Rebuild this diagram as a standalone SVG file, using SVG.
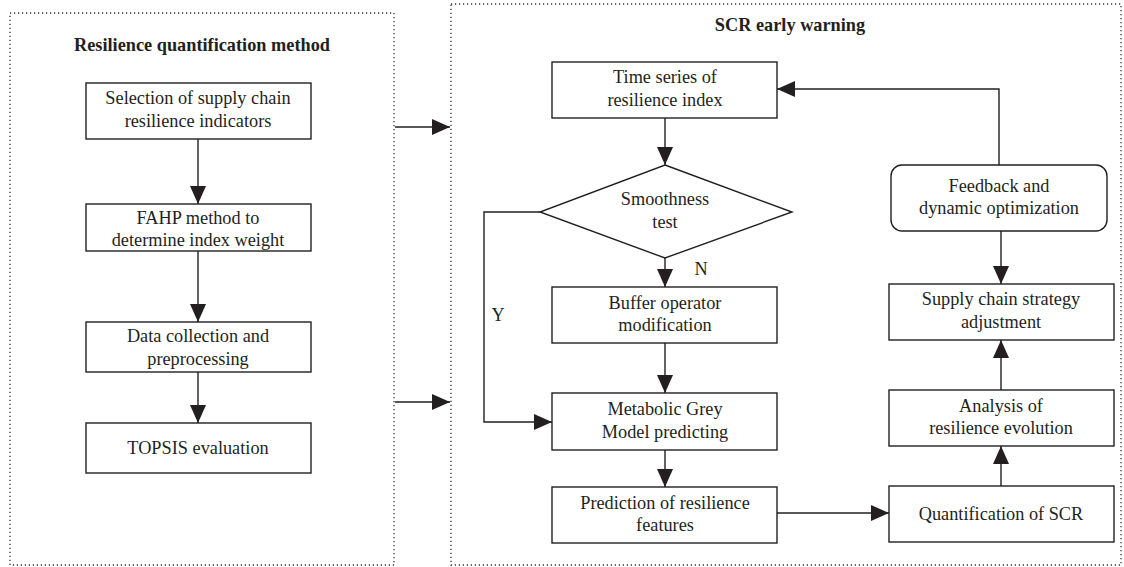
<svg xmlns="http://www.w3.org/2000/svg" width="1124" height="567" viewBox="0 0 1124 567">
<style>
.frame{fill:none;stroke:#333;stroke-width:1.3;stroke-dasharray:1.2 2.8}
.box{fill:#fff;stroke:#231f20;stroke-width:1.4}
.t{font-family:"Liberation Serif","Times New Roman",serif;font-size:18.3px;fill:#231f20;text-anchor:middle}
.h{font-family:"Liberation Serif","Times New Roman",serif;font-size:18.3px;font-weight:bold;fill:#231f20;text-anchor:middle}
.c{fill:none;stroke:#231f20;stroke-width:1.4}
</style>
<defs>
<marker id="ah" markerUnits="userSpaceOnUse" markerWidth="18" markerHeight="16" refX="18" refY="8" orient="auto">
<path d="M0,0 L18,8 L0,16 z" fill="#231f20"/>
</marker>
</defs>
<g id="frames">
<rect class="frame" x="10" y="13" width="384" height="552"/>
<rect class="frame" x="451" y="4" width="670" height="561"/>
<text class="h" x="202" y="51">Resilience quantification method</text>
<text class="h" x="790" y="31">SCR early warning</text>
</g>
<g id="connectors">
<line class="c" x1="198" y1="139" x2="198" y2="204" marker-end="url(#ah)"/>
<line class="c" x1="198" y1="251" x2="198" y2="322" marker-end="url(#ah)"/>
<line class="c" x1="198" y1="372" x2="198" y2="423" marker-end="url(#ah)"/>
<line class="c" x1="395" y1="127" x2="450" y2="127" marker-end="url(#ah)"/>
<line class="c" x1="395" y1="402" x2="450" y2="402" marker-end="url(#ah)"/>
<line class="c" x1="665" y1="118" x2="665" y2="165" marker-end="url(#ah)"/>
<line class="c" x1="665" y1="258" x2="665" y2="287" marker-end="url(#ah)"/>
<line class="c" x1="665" y1="343" x2="665" y2="393" marker-end="url(#ah)"/>
<line class="c" x1="665" y1="450" x2="665" y2="487" marker-end="url(#ah)"/>
<polyline class="c" points="540,212 484,212 484,422 552,422" marker-end="url(#ah)"/>
<line class="c" x1="777" y1="513" x2="889" y2="513" marker-end="url(#ah)"/>
<line class="c" x1="1001" y1="486" x2="1001" y2="446" marker-end="url(#ah)"/>
<line class="c" x1="1001" y1="390" x2="1001" y2="340" marker-end="url(#ah)"/>
<line class="c" x1="1001" y1="231" x2="1001" y2="284" marker-end="url(#ah)"/>
<polyline class="c" points="999,165 999,89 777,89" marker-end="url(#ah)"/>
<text class="t" x="701" y="275">N</text>
<text class="t" x="498" y="321">Y</text>
</g>
<g id="n1"><rect class="box" x="86" y="83" width="225" height="56"/><text class="t" x="198" y="104">Selection of supply chain</text><text class="t" x="198" y="127">resilience indicators</text></g>
<g id="n2"><rect class="box" x="86" y="204" width="225" height="47"/><text class="t" x="198" y="224">FAHP method to</text><text class="t" x="198" y="246">determine index weight</text></g>
<g id="n3"><rect class="box" x="86" y="322" width="225" height="50"/><text class="t" x="198" y="342">Data collection and</text><text class="t" x="198" y="365">preprocessing</text></g>
<g id="n4"><rect class="box" x="86" y="423" width="225" height="50"/><text class="t" x="198" y="454">TOPSIS evaluation</text></g>
<g id="n5"><rect class="box" x="552" y="62" width="225" height="56"/><text class="t" x="665" y="83">Time series of</text><text class="t" x="665" y="106">resilience index</text></g>
<g id="n6"><polygon class="box" points="665,165 792,212 665,258 540,212"/><text class="t" x="665" y="205">Smoothness</text><text class="t" x="665" y="228">test</text></g>
<g id="n7"><rect class="box" x="552" y="287" width="225" height="56"/><text class="t" x="665" y="309">Buffer operator</text><text class="t" x="665" y="331">modification</text></g>
<g id="n8"><rect class="box" x="552" y="393" width="225" height="57"/><text class="t" x="665" y="415">Metabolic Grey</text><text class="t" x="665" y="438">Model predicting</text></g>
<g id="n9"><rect class="box" x="552" y="487" width="225" height="56"/><text class="t" x="665" y="509">Prediction of resilience</text><text class="t" x="665" y="531">features</text></g>
<g id="n10"><rect class="box" x="889" y="486" width="225" height="56"/><text class="t" x="1001" y="520">Quantification of SCR</text></g>
<g id="n11"><rect class="box" x="889" y="390" width="225" height="56"/><text class="t" x="1001" y="412">Analysis of</text><text class="t" x="1001" y="434">resilience evolution</text></g>
<g id="n12"><rect class="box" x="889" y="284" width="225" height="56"/><text class="t" x="1001" y="305">Supply chain strategy</text><text class="t" x="1001" y="328">adjustment</text></g>
<g id="n13"><rect class="box" x="891" y="165" width="216" height="66" rx="11"/><text class="t" x="999" y="192">Feedback and</text><text class="t" x="999" y="214">dynamic optimization</text></g>
</svg>
